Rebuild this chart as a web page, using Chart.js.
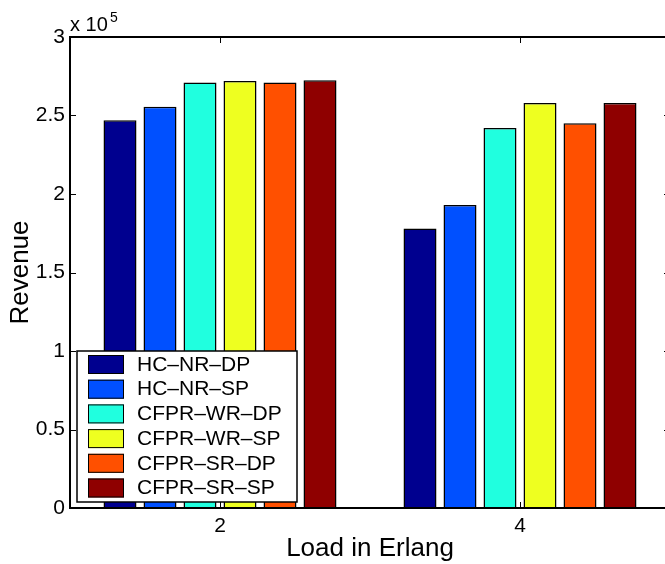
<!DOCTYPE html>
<html>
<head>
<meta charset="utf-8">
<script src="https://cdn.jsdelivr.net/npm/chart.js@4/dist/chart.umd.min.js"></script>
<style>
  html, body { margin: 0; padding: 0; background: #fff; overflow: hidden; }
  #wrap { position: relative; width: 680px; height: 564px; }
</style>
</head>
<body>
<div id="wrap"><canvas id="revChart"></canvas></div>
<script>
const loads = ['2', '4'];
const hcNrDp = [247000, 178000];
const hcNrSp = [255500, 193000];
const cfprWrDp = [271000, 242000];
const cfprWrSp = [272000, 258000];
const cfprSrDp = [271000, 245000];
const cfprSrSp = [272500, 258000];
const yTicks = [0, 50000, 100000, 150000, 200000, 250000, 300000];

const FONT = "'Liberation Sans', Arial, Helvetica, sans-serif";

function series(label, data, color) {
    return {
        label: label,
        data: data,
        backgroundColor: color,
        borderColor: '#000',
        borderWidth: 1.5,
        categoryPercentage: 0.8,
        barPercentage: 0.825
    };
}

// axes box, inward ticks, exponent note and the boxed legend
const matlabLook = {
    id: 'matlabLook',
    afterDatasetsDraw(chart) {
        const { ctx, chartArea: a, scales: { x, y } } = chart;
        ctx.save();
        ctx.strokeStyle = '#000';
        ctx.lineWidth = 2;
        ctx.strokeRect(a.left, a.top, a.right - a.left, a.bottom - a.top);

        ctx.lineWidth = 1;
        ctx.beginPath();
        y.ticks.forEach(t => {
            const py = Math.round(y.getPixelForValue(t.value)) + 0.5;
            ctx.moveTo(a.left, py); ctx.lineTo(a.left + 6, py);
            ctx.moveTo(a.right, py); ctx.lineTo(a.right - 6, py);
        });
        x.ticks.forEach((t, i) => {
            const px = Math.round(x.getPixelForTick(i)) + 0.5;
            ctx.moveTo(px, a.top); ctx.lineTo(px, a.top + 6);
            ctx.moveTo(px, a.bottom); ctx.lineTo(px, a.bottom - 6);
        });
        ctx.stroke();

        // x 10^5
        ctx.fillStyle = '#000';
        ctx.textBaseline = 'alphabetic';
        ctx.textAlign = 'left';
        ctx.font = '20px ' + FONT;
        ctx.fillText('x 10', a.left, 31);
        ctx.font = '14px ' + FONT;
        ctx.fillText('5', a.left + 40, 22);

        // legend
        const bx = a.left + 7, bw = 220, bh = 151, by = a.bottom - 6 - bh;
        ctx.fillStyle = '#fff';
        ctx.fillRect(bx, by, bw, bh);
        ctx.lineWidth = 1.5;
        ctx.strokeRect(bx, by, bw, bh);
        ctx.font = '21px ' + FONT;
        ctx.textBaseline = 'middle';
        chart.data.datasets.forEach((ds, i) => {
            const sy = by + 4 + i * 24.7;
            ctx.fillStyle = ds.backgroundColor;
            ctx.fillRect(bx + 11, sy, 36, 19);
            ctx.lineWidth = 1;
            ctx.strokeRect(bx + 11.5, sy + 0.5, 35, 18);
            ctx.fillStyle = '#000';
            ctx.fillText(ds.label, bx + 60, sy + 10);
        });
        ctx.restore();
    }
};

new Chart(document.getElementById('revChart'), {
    type: 'bar',
    data: {
        labels: loads,
        datasets: [
            series('HC\u2013NR\u2013DP', hcNrDp, '#00008F'),
            series('HC\u2013NR\u2013SP', hcNrSp, '#0050FF'),
            series('CFPR\u2013WR\u2013DP', cfprWrDp, '#20FFDF'),
            series('CFPR\u2013WR\u2013SP', cfprWrSp, '#EEFF20'),
            series('CFPR\u2013SR\u2013DP', cfprSrDp, '#FF5000'),
            series('CFPR\u2013SR\u2013SP', cfprSrSp, '#8F0000')
        ]
    },
    options: {
        responsive: true,
        maintainAspectRatio: false,
        animation: false,
        layout: { padding: { top: 37, right: 10, left: 0, bottom: 0 } },
        plugins: {
            legend: { display: false },
            tooltip: { enabled: false }
        },
        scales: {
            x: {
                grid: { display: false, drawTicks: false },
                border: { display: false },
                ticks: { color: '#000', font: { family: FONT, size: 21 }, padding: 6 },
                title: { display: true, text: 'Load in Erlang', color: '#000',
                         font: { family: FONT, size: 26 }, padding: { top: 0, bottom: 0 } },
                afterFit(scale) { scale.height = 56; }
            },
            y: {
                min: 0,
                max: 300000,
                grid: { display: false, drawTicks: false },
                border: { display: false },
                afterBuildTicks(scale) { scale.ticks = yTicks.map(v => ({ value: v })); },
                ticks: {
                    color: '#000',
                    font: { family: FONT, size: 21 },
                    padding: 5,
                    callback: v => String(v / 100000)
                },
                title: { display: true, text: 'Revenue', color: '#000',
                         font: { family: FONT, size: 26 }, padding: { top: 5, bottom: 0 } },
                afterFit(scale) { scale.width = 70; }
            }
        }
    },
    plugins: [matlabLook]
});
</script>
</body>
</html>
